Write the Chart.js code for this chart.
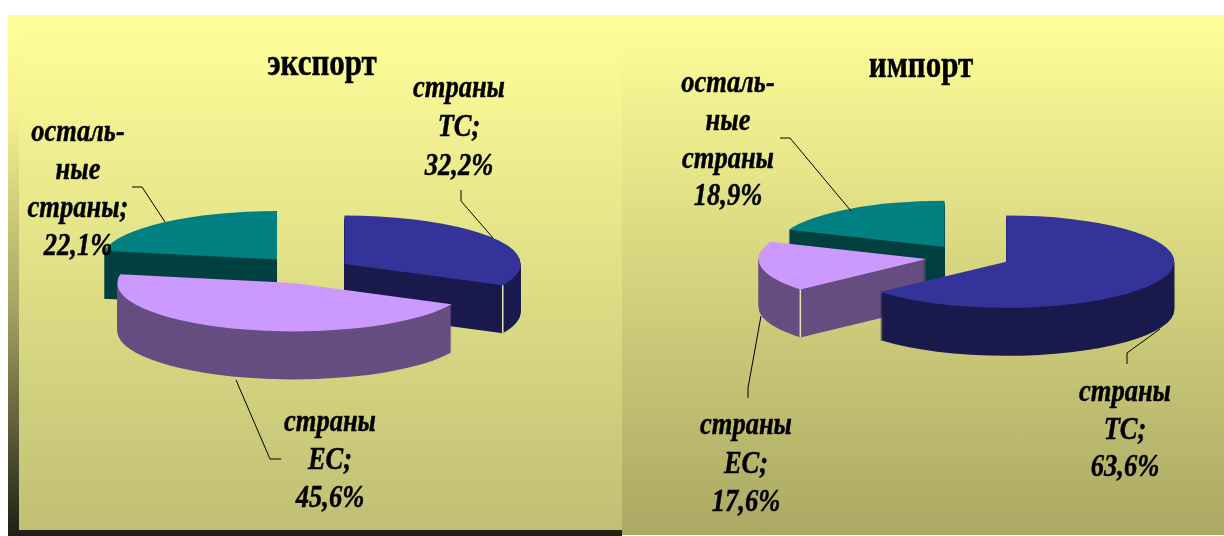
<!DOCTYPE html>
<html>
<head>
<meta charset="utf-8">
<script src="https://cdn.jsdelivr.net/npm/chart.js@4/dist/chart.umd.min.js"></script>
<style>
    html, body { margin: 0; padding: 0; background: #fff; overflow: hidden; }
    #page { position: relative; width: 1224px; height: 536px; }
    .box { position: absolute; }
    #leftEdge { left: 8px; top: 15px; width: 614px; height: 521px; background: linear-gradient(#ffff99 0%, #f4f08f 20%, #a9a765 55%, #1f1f14 100%); }
    #leftPanel { left: 19px; top: 15px; width: 603px; height: 515px; background: linear-gradient(#ffff99, #c0bf74); }
    #rightPanel { left: 622px; top: 15px; width: 602px; height: 520px; background: linear-gradient(#ffff99, #aba864); }
    canvas { position: absolute; top: 15px; }
</style>
</head>
<body>
<div id="page">
    <div class="box" id="leftEdge"></div>
    <div class="box" id="leftPanel"></div>
    <div class="box" id="rightPanel"></div>
    <canvas id="exportChart" width="614" height="521" style="left:8px"></canvas>
    <canvas id="importChart" width="602" height="521" style="left:622px"></canvas>
</div>
<script>
// order: страны ТС, страны ЕС, остальные страны
const exportValues = [32.2, 45.6, 22.1];
const importValues = [63.6, 17.6, 18.9];
const exportLabelLines = [['страны', 'ТС;'], ['страны', 'ЕС;'], ['осталь-', 'ные', 'страны;']];
const importLabelLines = [['страны', 'ТС;'], ['страны', 'ЕС;'], ['осталь-', 'ные', 'страны']];
const topColors = ['#333399', '#cc99ff', '#008080'];
const sideColors = ['#1a1a4d', '#664e80', '#004040'];

const squash = 0.275;
const depth = 48;
const textStretch = 1.2; // the original slide text is taller than the font

function valueText(v) {
    return v.toFixed(1).replace('.', ',') + '%';
}

function slicePath(ctx, arc) {
    const mid = (arc.startAngle + arc.endAngle) / 2;
    const x = arc.x + Math.cos(mid) * arc.options.offset;
    const y = arc.y + Math.sin(mid) * arc.options.offset;
    ctx.beginPath();
    ctx.moveTo(x, y);
    ctx.arc(x, y, arc.outerRadius, arc.startAngle, arc.endAngle);
    ctx.closePath();
    return { x, y };
}

function tallText(ctx, text, x, y) {
    ctx.save();
    ctx.translate(x, y);
    ctx.scale(1, textStretch);
    ctx.fillText(text, 0, 0);
    ctx.strokeText(text, 0, 0);
    ctx.restore();
}

// flat pie tilted by squashing y, the wall is the slice stacked down
const tiltedPie = {
    id: 'tiltedPie',
    beforeDatasetDraw(chart) {
        const ctx = chart.ctx;
        const cfg = chart.options.plugins.tiltedPie;
        const arcs = chart.getDatasetMeta(0).data;
        cfg.drawOrder.forEach(i => {
            const arc = arcs[i];
            const cy = arc.y;
            for (let dy = depth; dy >= 0; dy--) {
                ctx.save();
                ctx.translate(0, cy + dy);
                ctx.scale(1, squash);
                ctx.translate(0, -cy);
                slicePath(ctx, arc);
                ctx.fillStyle = dy ? sideColors[i] : arc.options.backgroundColor;
                ctx.fill();
                ctx.restore();
            }
            if (cfg.corner && cfg.corner.index === i) {
                const mid = (arc.startAngle + arc.endAngle) / 2;
                const a = arc[cfg.corner.angle];
                const px = arc.x + Math.cos(mid) * arc.options.offset + Math.cos(a) * arc.outerRadius;
                const py = cy + (Math.sin(mid) * arc.options.offset + Math.sin(a) * arc.outerRadius) * squash;
                ctx.beginPath();
                ctx.moveTo(px, py);
                ctx.lineTo(px, py + depth);
                ctx.strokeStyle = '#e6e6b8';
                ctx.lineWidth = 1.5;
                ctx.stroke();
            }
        });
        return false;
    },
    afterDraw(chart) {
        const ctx = chart.ctx;
        const cfg = chart.options.plugins.tiltedPie;
        ctx.save();
        ctx.translate(-cfg.originX, -cfg.originY);
        ctx.fillStyle = '#000';
        ctx.strokeStyle = '#000';
        ctx.lineWidth = 0.4;
        ctx.textAlign = 'center';
        ctx.textBaseline = 'middle';
        ctx.font = 'bold 31px "Liberation Serif"';
        tallText(ctx, cfg.title, cfg.titleAt[0], cfg.titleAt[1]);
        ctx.font = 'italic bold 26.5px "Liberation Serif"';
        cfg.labels.forEach((lines, i) => {
            const place = cfg.labelPlaces[i];
            lines.concat(valueText(cfg.values[i])).forEach((line, k) => {
                tallText(ctx, line, place.x, place.ys[k]);
            });
        });
        ctx.lineWidth = 1;
        cfg.leaders.forEach(pts => {
            ctx.beginPath();
            pts.forEach((p, k) => k ? ctx.lineTo(p[0], p[1]) : ctx.moveTo(p[0], p[1]));
            ctx.stroke();
        });
        ctx.restore();
    }
};

function pieChart(id, values, opts) {
    return new Chart(document.getElementById(id), {
        type: 'pie',
        data: {
            labels: opts.labels.map(l => l.join(' ')),
            datasets: [{
                data: values,
                backgroundColor: topColors,
                borderWidth: 0,
                offset: opts.offsets
            }]
        },
        options: {
            responsive: false,
            animation: false,
            events: [],
            radius: opts.radius,
            layout: { padding: opts.padding },
            plugins: {
                legend: { display: false },
                tooltip: { enabled: false },
                tiltedPie: {
                    title: opts.title,
                    titleAt: opts.titleAt,
                    values: values,
                    labels: opts.labels,
                    labelPlaces: opts.labelPlaces,
                    leaders: opts.leaders,
                    drawOrder: opts.drawOrder,
                    corner: opts.corner,
                    originX: opts.originX,
                    originY: 15
                }
            }
        },
        plugins: [tiltedPie]
    });
}

pieChart('exportChart', exportValues, {
    title: 'экспорт',
    titleAt: [322, 65],
    labels: exportLabelLines,
    originX: 8,
    radius: 176,
    offsets: [42, 50, 50],
    padding: { right: 12, bottom: 11 },
    drawOrder: [2, 0, 1],
    corner: { index: 0, angle: 'endAngle' },
    labelPlaces: [
        { x: 459, ys: [89, 128, 167] },
        { x: 330, ys: [423, 461, 499] },
        { x: 78, ys: [133, 171, 209, 247] }
    ],
    leaders: [
        [[461, 190], [461, 201], [493, 238]],
        [[236, 380], [270, 459], [281, 459]],
        [[132, 187], [142, 187], [165, 222]]
    ]
});

pieChart('importChart', importValues, {
    title: 'импорт',
    titleAt: [921, 67],
    labels: importLabelLines,
    originX: 622,
    radius: 168,
    offsets: [41, 43, 44],
    padding: { left: 92, bottom: 37 },
    drawOrder: [2, 1, 0],
    corner: { index: 1, angle: 'startAngle' },
    labelPlaces: [
        { x: 1125, ys: [393, 431, 468] },
        { x: 746, ys: [426, 465, 503] },
        { x: 728, ys: [84, 122, 160, 197] }
    ],
    leaders: [
        [[1160, 329], [1127, 353], [1127, 364]],
        [[761, 316], [748, 388], [748, 398]],
        [[780, 138], [790, 138], [851, 211]]
    ]
});
</script>
</body>
</html>
